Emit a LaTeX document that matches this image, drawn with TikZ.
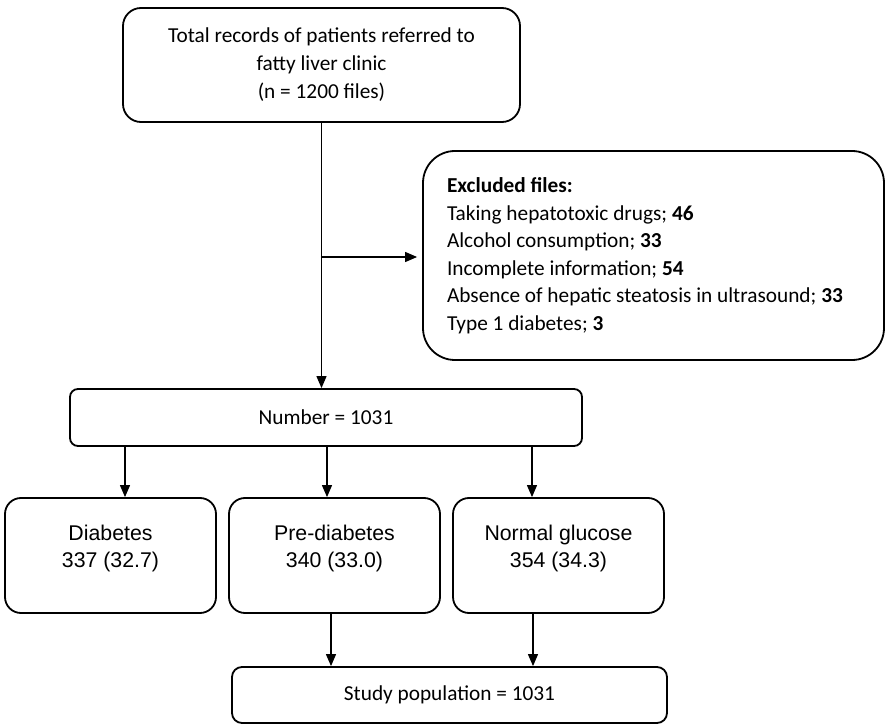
\documentclass[tikz,border=0pt]{standalone}
\usepackage{fontspec}
\setmainfont{Carlito}
\newfontfamily\arialfont{Liberation Sans}
\usetikzlibrary{arrows.meta}

\begin{document}
\begin{tikzpicture}[line cap=round,line join=round,>={Triangle[length=12pt,width=10pt]},x=1pt,y=-1pt,
	box/.style={draw,line width=1.8pt,rounded corners=#1,align=flush center,inner sep=0pt,font=\fontsize{21.3}{28}\selectfont},
	box/.default=10pt,
	grp/.style={box=16pt,font=\arialfont\fontsize{21.3}{27}\selectfont,minimum width=211pt,minimum height=115pt,text depth=18pt},
	arr/.style={->,line width=1.2pt}]
				\useasboundingbox (0,0) rectangle (886,727);
				\node[box=18pt,minimum width=397pt,minimum height=114pt] (total) at (321.5,65) {Total records of patients referred to\\fatty liver clinic\\(n = 1200 files)};
				\node[box=32pt,align=flush left,text width=413pt,inner xsep=24pt,minimum height=209pt,font=\fontsize{21.3}{27.5}\selectfont] (excl) at (653.5,255.5) {\textbf{Excluded files:}\\Taking hepatotoxic drugs; \textbf{46}\\Alcohol consumption; \textbf{33}\\Incomplete information; \textbf{54}\\Absence of hepatic steatosis in ultrasound; \textbf{33}\\Type 1 diabetes; \textbf{3}};
				\node[box=8pt,minimum width=512pt,minimum height=57pt] (num) at (326,417.5) {Number = 1031};
				\node[grp] (dia) at (110.5,555.5) {Diabetes\\337 (32.7)};
				\node[grp] (pre) at (334.5,555.5) {Pre-diabetes\\340 (33.0)};
				\node[grp] (norm) at (558.5,555.5) {Normal glucose\\354 (34.3)};
				\node[box=10pt,minimum width=435pt,minimum height=56pt] (study) at (449.5,695) {Study population = 1031};
				\coordinate (split) at (total.south |- 0,257);
				\draw[arr] (total.south) -- (total.south |- num.north);
				\draw[arr,shorten >=5pt] (split) -- (split -| excl.west);
				\draw[arr] (125,0 |- num.south) -- (125,0 |- dia.north);
				\draw[arr] (327,0 |- num.south) -- (327,0 |- pre.north);
				\draw[arr] (532,0 |- num.south) -- (532,0 |- norm.north);
				\draw[arr] (331,0 |- pre.south) -- (331,0 |- study.north);
				\draw[arr] (533,0 |- norm.south) -- (533,0 |- study.north);
			\end{tikzpicture}
\end{document}
